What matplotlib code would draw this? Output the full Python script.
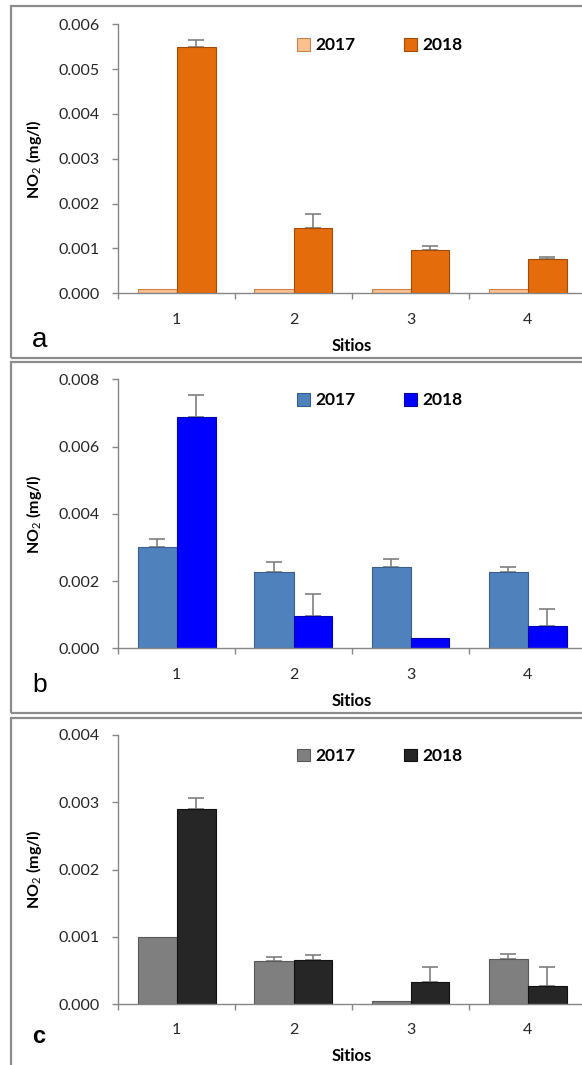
import matplotlib
matplotlib.use("Agg")
import matplotlib.pyplot as plt
from matplotlib.patches import Rectangle
import numpy as np

plt.rcParams['font.family'] = ['Lato', 'DejaVu Sans']
plt.rcParams['mathtext.fontset'] = 'custom'
plt.rcParams['mathtext.rm'] = 'Lato'
plt.rcParams['mathtext.bf'] = 'Lato:bold'

#==================================
# data

sitios = ["1", "2", "3", "4"]
years = ["2017", "2018"]

a_2017 = [0.0001, 0.0001, 0.0001, 0.0001]
a_2018 = [0.0055, 0.00146, 0.00096, 0.00076]
a_err_2017 = [0, 0, 0, 0]
a_err_2018 = [0.00014, 0.0003, 0.0001, 0.00005]

b_2017 = [0.00302, 0.00226, 0.00243, 0.00226]
b_2018 = [0.00689, 0.00097, 0.0003, 0.00067]
b_err_2017 = [0.00022, 0.0003, 0.00022, 0.00017]
b_err_2018 = [0.00065, 0.00064, 0, 0.00049]

c_2017 = [0.00099, 0.00064, 0.00005, 0.00067]
c_2018 = [0.0029, 0.00066, 0.00033, 0.00027]
c_err_2017 = [0, 0.00006, 0, 0.00007]
c_err_2018 = [0.00017, 0.00007, 0.00022, 0.00028]

yticks_a = [0, 0.001, 0.002, 0.003, 0.004, 0.005, 0.006]
yticks_b = [0, 0.002, 0.004, 0.006, 0.008]
yticks_c = [0, 0.001, 0.002, 0.003, 0.004]

#==================================

W, H = 582, 1065
fig = plt.figure(figsize=(W / 100, H / 100), dpi=100)

spine_col = '#868686'
text_col = '#262626'


def px_box(left, top, right, bottom):
	return [left / W, 1 - bottom / H, (right - left) / W, (bottom - top) / H]


def panel(top, bottom, v17, v18, e17, e18, yticks, cols, edges, letter, letter_y, letter_kw):
	ax = fig.add_axes(px_box(118, top, 586, bottom))
	x = np.arange(1, len(sitios) + 1)
	w = 1 / 3
	zeros = [0] * len(sitios)
	ax.bar(x - w / 2, v17, w, color=cols[0], edgecolor=edges[0], linewidth=0.8, label=years[0], zorder=2)
	ax.bar(x + w / 2, v18, w, color=cols[1], edgecolor=edges[1], linewidth=0.8, label=years[1], zorder=2)
	for xs, v, e in [(x - w / 2, v17, e17), (x + w / 2, v18, e18)]:
		xs_e = [xx for xx, ee in zip(xs, e) if ee > 0]
		v_e = [vv for vv, ee in zip(v, e) if ee > 0]
		e_e = [ee for ee in e if ee > 0]
		if xs_e:
			ax.errorbar(xs_e, v_e, yerr=[[0] * len(e_e), e_e], fmt='none', ecolor='#7f7f7f',
				elinewidth=1.2, capsize=5.5, capthick=1.2, zorder=1)
	ax.set_xlim(0.5, 4.5)
	ax.set_ylim(0, yticks[-1])
	ax.set_yticks(yticks)
	ax.set_yticklabels(["{:.3f}".format(t) for t in yticks])
	ax.set_xticks([0.5, 1.5, 2.5, 3.5, 4.5])
	ax.set_xticklabels([])
	ax.set_xticks(x, minor=True)
	ax.set_xticklabels(sitios, minor=True)
	ax.tick_params(axis='x', which='major', length=4, width=1, color=spine_col, direction='out')
	ax.tick_params(axis='x', which='minor', length=0, pad=14, labelsize=11.5, labelcolor=text_col)
	ax.tick_params(axis='y', length=4, width=1, color=spine_col, pad=9, labelsize=11.5, labelcolor=text_col)
	for s in ['top', 'right']:
		ax.spines[s].set_visible(False)
	for s in ['left', 'bottom']:
		ax.spines[s].set_color(spine_col)
		ax.spines[s].set_linewidth(1)
	ax.set_xlabel('Sitios', fontsize=12, fontweight='bold')
	ax.xaxis.set_label_coords(0.5, -0.165)
	ax.set_ylabel('NO$_2$ (mg/l)', fontsize=11.5, fontweight='bold')
	ax.yaxis.set_label_coords(-0.158, 0.5)
	ax.legend(loc='center left', bbox_to_anchor=(297 / W, 1 - (top + 21) / H),
		bbox_transform=fig.transFigure, ncol=2, frameon=False, borderpad=0, borderaxespad=0,
		handlelength=0.75, handleheight=0.75, handletextpad=0.3, columnspacing=2.8,
		prop={'family': 'Lato', 'weight': 'bold', 'size': 12.5})
	fig.text(32 / W, 1 - letter_y / H, letter, ha='left', va='baseline',
		family='Liberation Sans', color='black', **letter_kw)
	return ax


panel(24.3, 293.3, a_2017, a_2018, a_err_2017, a_err_2018, yticks_a,
	['#FAC090', '#E46C0A'], ['#c9834a', '#a04c08'], 'a', 347, {'fontsize': 20})
panel(379.3, 648.3, b_2017, b_2018, b_err_2017, b_err_2018, yticks_b,
	['#4F81BD', '#0000FF'], ['#3a5f8c', '#0000b0'], 'b', 692, {'fontsize': 19})
panel(735, 1004, c_2017, c_2018, c_err_2017, c_err_2018, yticks_c,
	['#7F7F7F', '#262626'], ['#595959', '#111111'], 'c', 1043, {'fontsize': 17, 'fontweight': 'bold'})

# panel frames
for top, bottom in [(6, 358), (361.5, 713), (718, 1080)]:
	fig.patches.append(Rectangle((11 / W, 1 - bottom / H), (600 - 11) / W, (bottom - top) / H,
		transform=fig.transFigure, fill=False, edgecolor='#8c8c8c', linewidth=1.6))

fig.savefig('out.png', dpi=100)
